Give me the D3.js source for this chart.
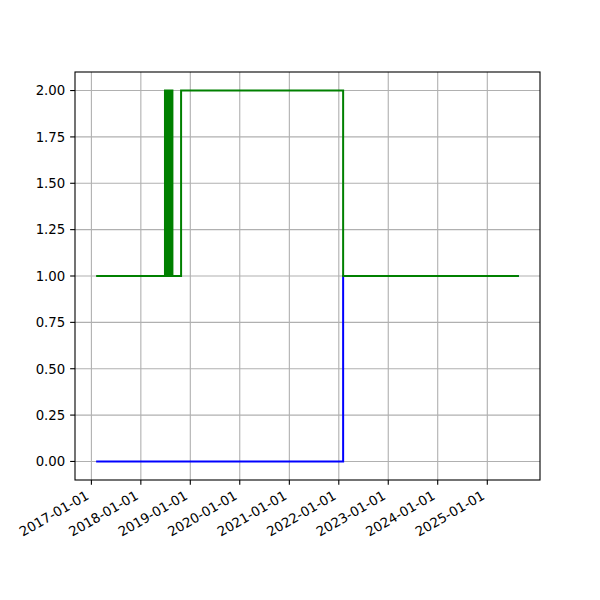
<!DOCTYPE html>
<html>
<head>
<meta charset="utf-8">
<script src="https://cdn.jsdelivr.net/npm/d3@7"></script>
<style>
  html, body { margin: 0; padding: 0; background: #fff; }
  svg { display: block; font-family: "DejaVu Sans", sans-serif; }
</style>
</head>
<body>
<svg id="chart" width="600" height="600"></svg>
<script>
// ---- data ----
const blueDates  = ["2017-02-05", "2022-02-02", "2025-08-22"];
const blueValues = [0, 1, 1];

const greenDates = [
  "2017-02-05", "2018-06-28", "2018-07-09", "2018-07-11", "2018-07-20", "2018-07-22",
  "2018-07-28", "2018-07-30", "2018-08-05", "2018-08-07", "2018-08-14", "2018-08-16",
  "2018-08-22", "2018-10-25", "2022-02-02", "2025-08-22"
];
const greenValues = [1, 2, 1, 2, 1, 2, 1, 2, 1, 2, 1, 2, 1, 2, 1, 1];

const xTickLabels = ["2017-01-01", "2018-01-01", "2019-01-01", "2020-01-01", "2021-01-01",
                     "2022-01-01", "2023-01-01", "2024-01-01", "2025-01-01"];
const yTickValues = [0, 0.25, 0.5, 0.75, 1.0, 1.25, 1.5, 1.75, 2.0];

// ---- layout ----
const mLeft = 75, mRight = 540, mTop = 72, mBottom = 480;
const parse = d3.utcParse("%Y-%m-%d");

const blue = blueDates.map((d, i) => ({ t: parse(d), v: blueValues[i] }));
const green = greenDates.map((d, i) => ({ t: parse(d), v: greenValues[i] }));

const allT = blue.concat(green).map(d => d.t);
const tMin = d3.min(allT), tMax = d3.max(allT);
const pad = (tMax - tMin) * 0.05;
const x = d3.scaleUtc().domain([new Date(+tMin - pad), new Date(+tMax + pad)]).range([mLeft, mRight]);
const y = d3.scaleLinear().domain([-0.1, 2.1]).range([mBottom, mTop]);

const svg = d3.select("#chart");
const fontPx = 13.3;
const tickLen = 4.86;

// grid
const xTicks = xTickLabels.map(parse);
svg.append("g").selectAll("line").data(xTicks).join("line")
  .attr("x1", d => x(d)).attr("x2", d => x(d))
  .attr("y1", mTop).attr("y2", mBottom)
  .attr("stroke", "#b0b0b0").attr("stroke-width", 1.1);
svg.append("g").selectAll("line").data(yTickValues).join("line")
  .attr("x1", mLeft).attr("x2", mRight)
  .attr("y1", d => y(d)).attr("y2", d => y(d))
  .attr("stroke", "#b0b0b0").attr("stroke-width", 1.1);

// lines
const line = d3.line().x(d => x(d.t)).y(d => y(d.v)).curve(d3.curveStepAfter);
svg.append("path").datum(blue).attr("d", line)
  .attr("fill", "none").attr("stroke", "#0000ff").attr("stroke-width", 2);
svg.append("path").datum(green).attr("d", line)
  .attr("fill", "none").attr("stroke", "#008000").attr("stroke-width", 2);

// frame
svg.append("rect").attr("x", mLeft).attr("y", mTop)
  .attr("width", mRight - mLeft).attr("height", mBottom - mTop)
  .attr("fill", "none").attr("stroke", "#000").attr("stroke-width", 1.1);

// y axis ticks
const fmtY = d3.format(".2f");
const yAx = svg.append("g");
yAx.selectAll("line").data(yTickValues).join("line")
  .attr("x1", mLeft - tickLen).attr("x2", mLeft)
  .attr("y1", d => y(d)).attr("y2", d => y(d))
  .attr("stroke", "#000").attr("stroke-width", 1.1);
yAx.selectAll("text").data(yTickValues).join("text")
  .attr("x", mLeft - tickLen - 4.86)
  .attr("y", d => y(d))
  .attr("dy", "0.36em")
  .attr("text-anchor", "end")
  .attr("font-size", fontPx)
  .attr("fill", "#000")
  .text(d => fmtY(d));

// x axis ticks
const fmtX = d3.utcFormat("%Y-%m-%d");
const xAx = svg.append("g");
xAx.selectAll("line").data(xTicks).join("line")
  .attr("x1", d => x(d)).attr("x2", d => x(d))
  .attr("y1", mBottom).attr("y2", mBottom + tickLen)
  .attr("stroke", "#000").attr("stroke-width", 1.1);
xAx.selectAll("text").data(xTicks).join("text")
  .attr("transform", d => `translate(${x(d) - 1.6},${mBottom + tickLen + 4.86 + 8.5}) rotate(-30)`)
  .attr("text-anchor", "end")
  .attr("font-size", fontPx)
  .attr("fill", "#000")
  .text(d => fmtX(d));
</script>
</body>
</html>
